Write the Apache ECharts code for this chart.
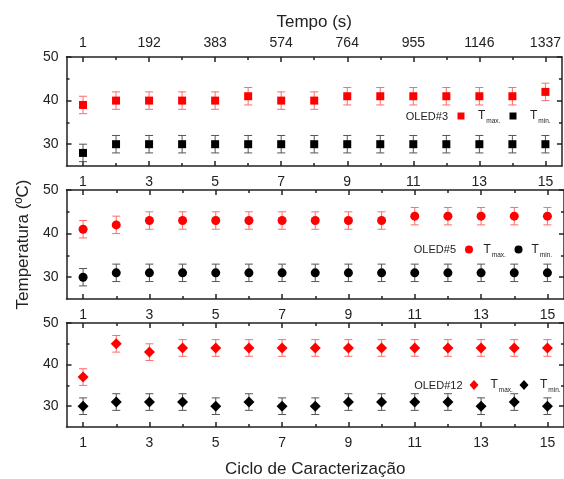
<!DOCTYPE html>
<html lang="pt">

<head>
    <meta charset="UTF-8">
    <title>Temperatura OLED</title>
    <script src="https://cdn.jsdelivr.net/npm/echarts@6/dist/echarts.min.js"></script>
</head>

<body style="margin:0">
    <div id="main" style="width:564px; height:479px;"></div>
    <script type="text/javascript">
        var myChart = echarts.init(document.getElementById('main'));

        // data
        var cycles = [1, 2, 3, 4, 5, 6, 7, 8, 9, 10, 11, 12, 13, 14, 15];
        var majorX = [1, 3, 5, 7, 9, 11, 13, 15];
        var minorX = [2, 4, 6, 8, 10, 12, 14];
        var tempoLabels = ['1', '192', '383', '574', '764', '955', '1146', '1337'];
        var majorY = [30, 40, 50];
        var minorY = [35, 45];

        var oled3Max = [39, 40, 40, 40, 40, 41, 40, 40, 41, 41, 41, 41, 41, 41, 42];
        var oled3Min = [28, 30, 30, 30, 30, 30, 30, 30, 30, 30, 30, 30, 30, 30, 30];
        var oled5Max = [41, 42, 43, 43, 43, 43, 43, 43, 43, 43, 44, 44, 44, 44, 44];
        var oled5Min = [30, 31, 31, 31, 31, 31, 31, 31, 31, 31, 31, 31, 31, 31, 31];
        var oled12Max = [37, 45, 43, 44, 44, 44, 44, 44, 44, 44, 44, 44, 44, 44, 44];
        var oled12Min = [30, 31, 31, 31, 30, 31, 30, 30, 31, 31, 31, 31, 30, 31, 30];
        var errBar = 2;

        // legend placement per panel: row centre, label right edge, [icon left, text pad] for max / min
        var panels = [
            { label: 'OLED#3', symbol: 'rect', size: 8, max: oled3Max, min: oled3Min,
              row: 116.5, labelRight: 448, icon: [7, 7], maxPos: [457.5, 8.5], minPos: [509.5, 8.5] },
            { label: 'OLED#5', symbol: 'circle', size: 9, max: oled5Max, min: oled5Min,
              row: 250, labelRight: 456, icon: [8, 8], maxPos: [465, 5.5], minPos: [514.5, 4] },
            { label: 'OLED#12', symbol: 'diamond', size: 11, max: oled12Max, min: oled12Min,
              row: 385.5, labelRight: 462.5, icon: [9, 10], maxPos: [469.5, 7], minPos: [519.5, 6.5] }
        ];

        var font = 'Liberation Sans, Arial, sans-serif';
        var txt = '#222';
        var gridTops = [57, 190, 323];
        var gridH = 109;

        var lineStyle = { color: '#222', width: 1.5 };

        function xAx(g, pos, vals, len, opts) {
            opts = opts || {};
            return {
                type: 'value', gridIndex: g, position: pos, min: 0.5, max: 15.5,
                axisLine: { show: !!opts.line, onZero: false, lineStyle: lineStyle },
                axisTick: { show: true, inside: true, length: len, customValues: vals, lineStyle: lineStyle },
                axisLabel: opts.labels ? {
                    show: true, customValues: vals, margin: pos === 'top' ? 7 : 9,
                    color: txt, fontSize: 14, fontFamily: font,
                    formatter: opts.labels
                } : { show: false },
                splitLine: { show: false },
                name: opts.name || '', nameLocation: 'middle', nameGap: opts.nameGap || 0,
                nameTextStyle: { fontSize: 17, color: txt, fontFamily: font }
            };
        }

        function yAx(g, pos, vals, len, opts) {
            opts = opts || {};
            return {
                type: 'value', gridIndex: g, position: pos, min: 25, max: 50,
                axisLine: { show: !!opts.line, onZero: false, lineStyle: lineStyle },
                axisTick: { show: true, inside: true, length: len, customValues: vals, lineStyle: lineStyle },
                axisLabel: opts.labels ? {
                    show: true, customValues: vals, margin: 8, color: txt, fontSize: 14, fontFamily: font
                } : { show: false },
                splitLine: { show: false },
                name: opts.name || '', nameLocation: 'middle', nameGap: opts.nameGap || 0,
                nameTextStyle: { fontSize: 17, color: txt, fontFamily: font }
            };
        }

        function errorRender(params, api) {
            var x = api.value(0);
            var lo = api.coord([x, api.value(1)]);
            var hi = api.coord([x, api.value(2)]);
            var w = 4;
            var style = { stroke: api.visual('color'), lineWidth: 1 };
            return {
                type: 'group',
                children: [
                    { type: 'line', shape: { x1: hi[0], y1: hi[1], x2: lo[0], y2: lo[1] }, style: style },
                    { type: 'line', shape: { x1: hi[0] - w, y1: hi[1], x2: hi[0] + w, y2: hi[1] }, style: style },
                    { type: 'line', shape: { x1: lo[0] - w, y1: lo[1], x2: lo[0] + w, y2: lo[1] }, style: style }
                ]
            };
        }

        function legendFor(name, p, pos) {
            return {
                data: [name],
                left: pos[0], top: p.row - 6.5, padding: 0,
                selectedMode: false,
                itemWidth: p.icon[0], itemHeight: p.icon[1],
                formatter: function (n) {
                    return n.indexOf('max') === 0 ? '{t|T}{s|max.}' : '{t|T}{s|min.}';
                },
                textStyle: {
                    color: txt, fontFamily: font,
                    rich: {
                        t: { fontSize: 12, lineHeight: 20, fontFamily: font, color: txt,
                             verticalAlign: 'middle', padding: [0, 0, 0, pos[1]] },
                        s: { fontSize: 6.5, fontFamily: font, color: txt, verticalAlign: 'bottom', padding: [0, 0, 1, 1] }
                    }
                }
            };
        }

        var grids = [], xAxes = [], yAxes = [], series = [], legends = [], graphics = [];

        panels.forEach(function (p, g) {
            grids.push({ left: 66.5, right: -4.75, top: gridTops[g], height: gridH });

            xAxes.push(xAx(g, 'bottom', majorX, 5, {
                line: true, labels: '{value}',
                name: g === 2 ? 'Ciclo de Caracterização' : '', nameGap: 34
            }));
            xAxes.push(xAx(g, 'bottom', minorX, 3));
            xAxes.push(xAx(g, 'top', majorX, 5, g === 0 ? {
                line: true,
                labels: function (v) { return tempoLabels[majorX.indexOf(v)]; },
                name: 'Tempo (s)', nameGap: 26
            } : { line: true }));
            xAxes.push(xAx(g, 'top', minorX, 3));

            yAxes.push(yAx(g, 'left', majorY, 5, {
                line: true, labels: true,
                name: g === 1 ? 'Temperatura (ºC)' : '', nameGap: 35
            }));
            yAxes.push(yAx(g, 'left', minorY, 3));
            yAxes.push(yAx(g, 'right', majorY, 5, { line: true }));
            yAxes.push(yAx(g, 'right', minorY, 3));

            var xi = g * 4, yi = g * 4;
            var suffix = p.label.replace('OLED', '');
            [['max', p.max, '#ff0000', '#ff6b6b'], ['min', p.min, '#000000', '#555555']].forEach(function (s) {
                series.push({
                    type: 'custom', xAxisIndex: xi, yAxisIndex: yi, z: 2, silent: true,
                    itemStyle: { color: s[3] },
                    renderItem: errorRender,
                    data: cycles.map(function (c, i) { return [c, s[1][i] - errBar, s[1][i] + errBar]; })
                });
                series.push({
                    name: s[0] + suffix, type: 'scatter', xAxisIndex: xi, yAxisIndex: yi, z: 3,
                    symbol: p.symbol, symbolSize: p.size,
                    itemStyle: { color: s[2], opacity: 1 },
                    data: cycles.map(function (c, i) { return [c, s[1][i]]; })
                });
            });

            legends.push(legendFor('max' + suffix, p, p.maxPos));
            legends.push(legendFor('min' + suffix, p, p.minPos));

            graphics.push({
                type: 'text', x: p.labelRight, y: p.row,
                style: { text: p.label, fill: txt, font: '11px ' + font, align: 'right', verticalAlign: 'middle' }
            });
        });

        myChart.setOption({
            backgroundColor: '#fff',
            animation: false,
            grid: grids,
            xAxis: xAxes,
            yAxis: yAxes,
            legend: legends,
            graphic: graphics,
            series: series
        });
    </script>

</body>

</html>
